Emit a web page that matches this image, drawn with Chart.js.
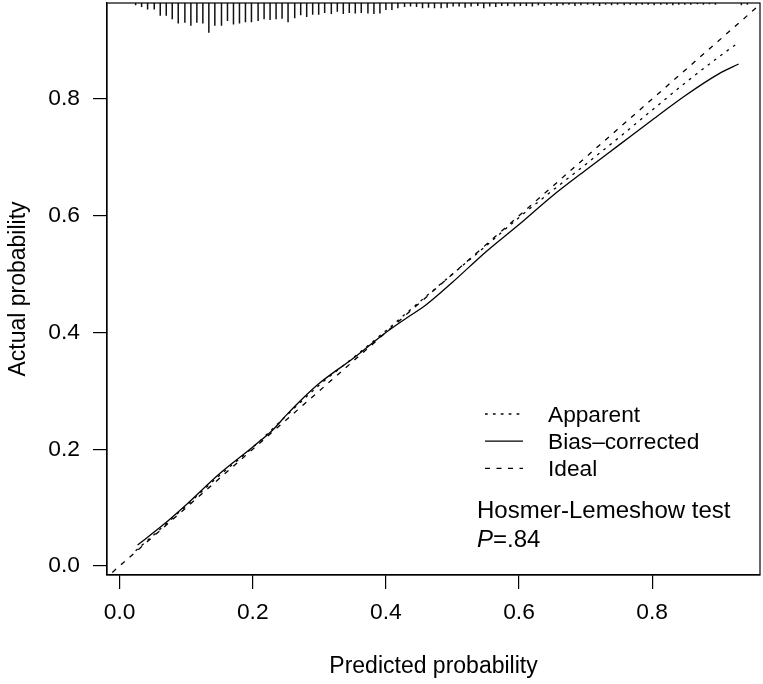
<!DOCTYPE html>
<html>
<head>
<meta charset="utf-8">
<script src="https://cdn.jsdelivr.net/npm/chart.js@4.4.0/dist/chart.umd.min.js"></script>
<style>
	html, body { margin: 0; padding: 0; background: #fff; }
	#wrap { width: 763px; height: 684px; position: relative; }
</style>
</head>
<body>
<div id="wrap"><canvas id="calib"></canvas></div>
<script>
// calibration curve - 값은 그림에서 읽은 것

const xTicks = [0.0, 0.2, 0.4, 0.6, 0.8];
const yTicks = [0.0, 0.2, 0.4, 0.6, 0.8];

// Apparent (dotted)
const apparentX = [0.024, 0.05, 0.10, 0.15, 0.20, 0.25, 0.30, 0.35, 0.40, 0.45, 0.50, 0.55, 0.60, 0.65, 0.70, 0.75, 0.80, 0.85, 0.90, 0.93];
const apparentY = [0.026, 0.052, 0.103, 0.155, 0.203, 0.257, 0.310, 0.356, 0.403, 0.452, 0.500, 0.548, 0.597, 0.643, 0.688, 0.734, 0.781, 0.828, 0.872, 0.897];

// Bias-corrected (solid)
const biasX = [0.027, 0.065, 0.100, 0.150, 0.200, 0.230, 0.250, 0.275, 0.300, 0.350, 0.400, 0.430, 0.460, 0.500, 0.550, 0.600, 0.650, 0.700, 0.750, 0.800, 0.850, 0.900, 0.930];
const biasY = [0.036, 0.070, 0.105, 0.158, 0.204, 0.233, 0.258, 0.287, 0.313, 0.355, 0.400, 0.424, 0.447, 0.486, 0.538, 0.585, 0.634, 0.678, 0.721, 0.764, 0.806, 0.843, 0.860];

// Ideal (y = x)
const idealX = [-0.05, 1.0];

// 상단 rug (예측확률 분포 spike)
const rugX = [
	0.024, 0.033, 0.042, 0.052, 0.061, 0.070, 0.079, 0.088, 0.098, 0.107,
	0.116, 0.125, 0.134, 0.143, 0.153, 0.162, 0.171, 0.180, 0.189, 0.198,
	0.208, 0.217, 0.226, 0.235, 0.244, 0.253, 0.263, 0.272, 0.281, 0.290,
	0.299, 0.308, 0.318, 0.327, 0.336, 0.345, 0.354, 0.363, 0.373, 0.382,
	0.391, 0.400, 0.409, 0.418, 0.428, 0.437, 0.446, 0.455, 0.464, 0.473,
	0.483, 0.492, 0.501, 0.510, 0.519, 0.528, 0.538, 0.547, 0.556, 0.565,
	0.574, 0.583, 0.593, 0.602, 0.611, 0.620, 0.629, 0.638, 0.648, 0.657,
	0.666, 0.675, 0.684, 0.693, 0.703, 0.712, 0.721, 0.730, 0.739, 0.748,
	0.758, 0.767, 0.776, 0.785, 0.794, 0.803, 0.813, 0.822, 0.831, 0.840,
	0.849, 0.858, 0.868, 0.877, 0.886, 0.895, 0.934, 0.943
];
const rugLen = [
	0.004, 0.007, 0.011, 0.011, 0.022, 0.022, 0.028, 0.035, 0.034, 0.039,
	0.034, 0.035, 0.051, 0.039, 0.039, 0.031, 0.037, 0.035, 0.033, 0.033,
	0.031, 0.028, 0.029, 0.028, 0.027, 0.033, 0.026, 0.021, 0.024, 0.020,
	0.020, 0.017, 0.019, 0.015, 0.019, 0.017, 0.018, 0.017, 0.018, 0.019,
	0.018, 0.012, 0.012, 0.009, 0.007, 0.006, 0.007, 0.009, 0.008, 0.009,
	0.009, 0.008, 0.006, 0.006, 0.008, 0.006, 0.005, 0.009, 0.006, 0.007,
	0.005, 0.005, 0.006, 0.005, 0.005, 0.006, 0.004, 0.005, 0.003, 0.005,
	0.004, 0.003, 0.005, 0.004, 0.003, 0.004, 0.005, 0.003, 0.004, 0.003,
	0.004, 0.003, 0.004, 0.003, 0.003, 0.004, 0.003, 0.003, 0.004, 0.003,
	0.003, 0.003, 0.002, 0.003, 0.002, 0.003, 0.004, 0.003
];

const legendLabels = ['Apparent', 'Bias\u2013corrected', 'Ideal'];

const X_MIN = -0.019, X_MAX = 0.962;
const Y_MIN = -0.0155, Y_MAX = 0.9645;

Chart.defaults.font.family = '"Liberation Sans", Arial, Helvetica, sans-serif';
Chart.defaults.color = '#000';

const toPoints = (xs, ys) => xs.map((x, i) => ({ x: x, y: ys[i] }));

// rug: 각 spike = 위쪽 끝 -> 아래 끝, 사이에 null로 끊기
const rugPoints = [];
rugX.forEach((x, i) => {
	rugPoints.push({ x: x, y: Y_MAX });
	rugPoints.push({ x: x, y: Y_MAX - rugLen[i] });
	rugPoints.push({ x: x, y: null });
});

// 프레임 + 범례 + HL 텍스트
const annotationPlugin = {
	id: 'calibAnnotations',
	afterDatasetsDraw: function(chart) {
		const ctx = chart.ctx;
		const a = chart.chartArea;
		ctx.save();

		ctx.strokeStyle = '#000';
		ctx.lineWidth = 1.2;
		ctx.setLineDash([]);
		ctx.strokeRect(a.left, a.top, a.right - a.left, a.bottom - a.top);

		// legend
		ctx.fillStyle = '#000';
		ctx.textBaseline = 'alphabetic';
		ctx.textAlign = 'left';
		ctx.font = '22.7px "Liberation Sans", Arial, sans-serif';
		legendLabels.forEach((label, i) => {
			const ds = chart.data.datasets[i];
			const baseY = 422 + i * 27.2;
			const lineY = baseY - 8;
			ctx.setLineDash(ds.borderDash || []);
			ctx.lineWidth = ds.borderWidth;
			ctx.strokeStyle = ds.borderColor;
			ctx.beginPath();
			ctx.moveTo(485, lineY);
			ctx.lineTo(523, lineY);
			ctx.stroke();
			ctx.setLineDash([]);
			ctx.fillText(label, 548, baseY);
		});

		ctx.font = '24px "Liberation Sans", Arial, sans-serif';
		ctx.fillText('Hosmer-Lemeshow test', 477, 518);
		ctx.font = 'italic 24px "Liberation Sans", Arial, sans-serif';
		ctx.fillText('P', 477, 546.5);
		const pw = ctx.measureText('P').width;
		ctx.font = '24px "Liberation Sans", Arial, sans-serif';
		ctx.fillText('=.84', 477 + pw, 546.5);

		ctx.restore();
	}
};

const lineStyle = { pointRadius: 0, pointHoverRadius: 0, fill: false, tension: 0, borderColor: '#000', backgroundColor: '#000' };
const smooth = { cubicInterpolationMode: 'monotone' };

new Chart(document.getElementById('calib'), {
	type: 'line',
	data: {
		datasets: [
			Object.assign({ label: 'Apparent', data: toPoints(apparentX, apparentY), borderWidth: 1.3, borderDash: [2.7, 5.2] }, lineStyle, smooth),
			Object.assign({ label: 'Bias-corrected', data: toPoints(biasX, biasY), borderWidth: 1.3, borderDash: [] }, lineStyle, smooth),
			Object.assign({ label: 'Ideal', data: toPoints(idealX, idealX), borderWidth: 1.3, borderDash: [5, 6.5] }, lineStyle),
			Object.assign({ label: 'rug', data: rugPoints, borderWidth: 1.5, spanGaps: false }, lineStyle, { borderColor: '#111' })
		]
	},
	options: {
		responsive: true,
		maintainAspectRatio: false,
		animation: false,
		events: [],
		layout: { padding: { top: 3, right: 3, left: 0, bottom: 0 } },
		plugins: {
			legend: { display: false },
			tooltip: { enabled: false }
		},
		scales: {
			x: {
				type: 'linear',
				min: X_MIN,
				max: X_MAX,
				afterFit: s => { s.height = 109; s.paddingLeft = 0; s.paddingRight = 0; },
				afterBuildTicks: s => { s.ticks = xTicks.map(v => ({ value: v })); },
				ticks: {
					callback: v => v.toFixed(1),
					font: { size: 22.8 },
					color: '#000',
					padding: 10,
					maxRotation: 0,
					autoSkip: false
				},
				grid: { drawOnChartArea: false, drawTicks: true, tickLength: 14, color: '#000', lineWidth: 1.2 },
				border: { display: true, color: '#000', width: 1.2 },
				title: { display: true, text: 'Predicted probability', font: { size: 23 }, color: '#000', padding: { top: 0, bottom: 4 } }
			},
			y: {
				type: 'linear',
				min: Y_MIN,
				max: Y_MAX,
				afterFit: s => { s.width = 107; s.paddingTop = 0; s.paddingBottom = 0; },
				afterBuildTicks: s => { s.ticks = yTicks.map(v => ({ value: v })); },
				ticks: {
					callback: v => v.toFixed(1),
					font: { size: 22.8 },
					color: '#000',
					padding: 13,
					autoSkip: false
				},
				grid: { drawOnChartArea: false, drawTicks: true, tickLength: 14, color: '#000', lineWidth: 1.2 },
				border: { display: true, color: '#000', width: 1.2 },
				title: { display: true, text: 'Actual probability', font: { size: 23 }, color: '#000', padding: { top: 5, bottom: 0 } }
			}
		}
	},
	plugins: [annotationPlugin]
});
</script>
</body>
</html>
